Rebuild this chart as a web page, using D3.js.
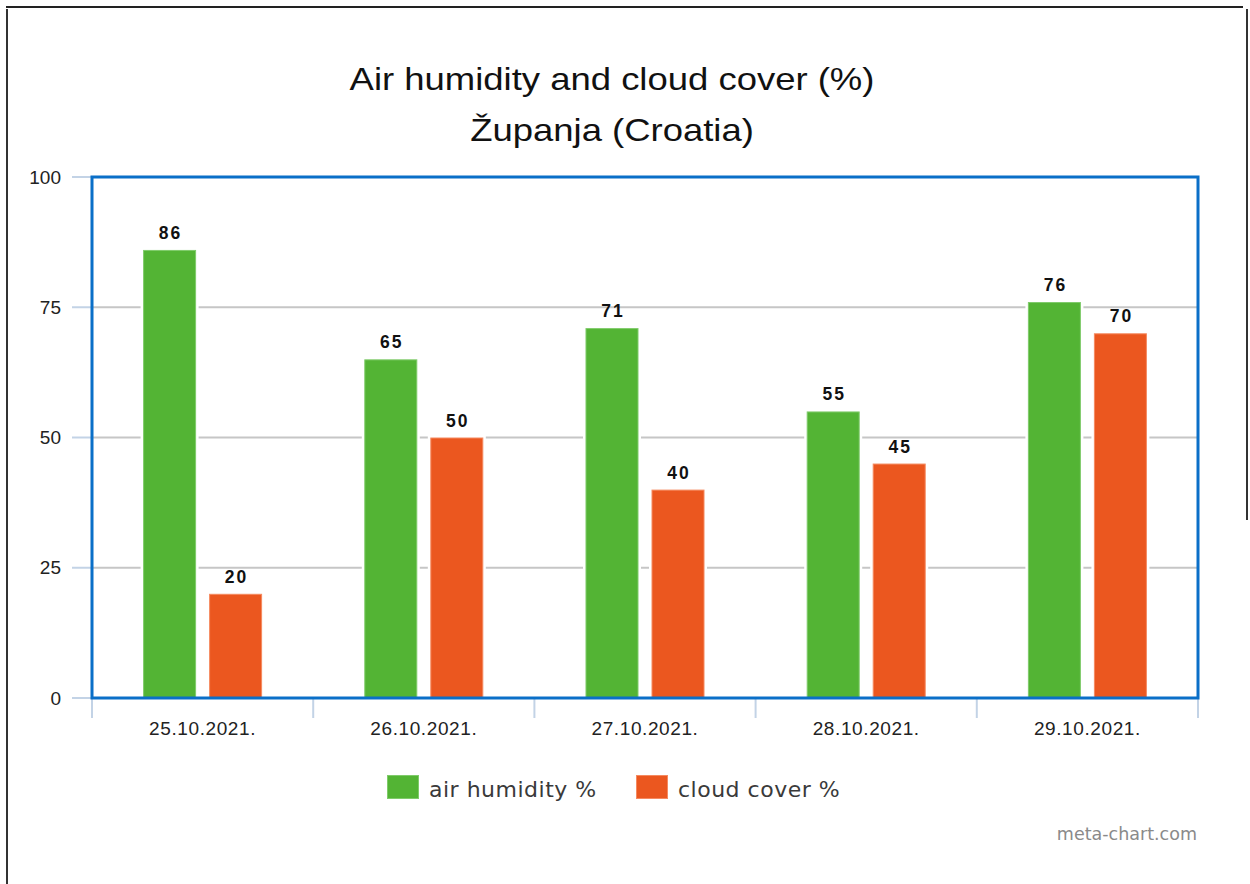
<!DOCTYPE html>
<html>
<head>
<meta charset="utf-8">
<script src="https://cdn.jsdelivr.net/npm/d3@7"></script>
<style>
  html, body { margin: 0; padding: 0; background: #fff; }
  svg { display: block; }
</style>
</head>
<body>
<svg id="chart" width="1250" height="884"></svg>
<script>
const categories = ["25.10.2021.", "26.10.2021.", "27.10.2021.", "28.10.2021.", "29.10.2021."];
const seriesNames = ["air humidity %", "cloud cover %"];
const airHumidity = [86, 65, 71, 55, 76];
const cloudCover = [20, 50, 40, 45, 70];
const seriesColors = ["#53b434", "#eb571f"];
const seriesStroke = ["#7fcb6a", "#f58a60"];
const yTicks = [0, 25, 50, 75, 100];
const titleLines = ["Air humidity and cloud cover (%)", "Županja (Croatia)"];

const svg = d3.select("#chart");
const plot = { left: 92, right: 1198, top: 177, bottom: 698 };

// outer page frame
svg.append("line").attr("x1", 6).attr("x2", 1243).attr("y1", 7).attr("y2", 7)
  .attr("stroke", "#222").attr("stroke-width", 2);
svg.append("line").attr("x1", 7).attr("x2", 7).attr("y1", 9).attr("y2", 884)
  .attr("stroke", "#333").attr("stroke-width", 2);
svg.append("line").attr("x1", 1247).attr("x2", 1247).attr("y1", 9).attr("y2", 520)
  .attr("stroke", "#333").attr("stroke-width", 2);

const x = d3.scaleBand().domain(categories).range([plot.left, plot.right]).padding(0);
const xInner = d3.scaleBand().domain(seriesNames).range([0, x.bandwidth()])
  .paddingInner(0.197).paddingOuter(0.774);
const y = d3.scaleLinear().domain([0, 100]).range([plot.bottom, plot.top]);

// gridlines
svg.append("g").selectAll("line").data(yTicks.filter(d => d > 0 && d < 100)).join("line")
  .attr("x1", plot.left).attr("x2", plot.right)
  .attr("y1", d => y(d)).attr("y2", d => y(d))
  .attr("stroke", "#c6c6c6").attr("stroke-width", 2);

// y ticks and labels
const yAxisG = svg.append("g");
yAxisG.selectAll("line").data(yTicks).join("line")
  .attr("x1", 72).attr("x2", plot.left)
  .attr("y1", d => y(d)).attr("y2", d => y(d))
  .attr("stroke", "#c3d3e6").attr("stroke-width", 2);
yAxisG.selectAll("text").data(yTicks).join("text")
  .attr("x", 61).attr("y", d => y(d))
  .attr("text-anchor", "end").attr("dominant-baseline", "central")
  .attr("font-family", "Liberation Sans, Arial, sans-serif").attr("font-size", 19)
  .attr("fill", "#222").text(d => d);

// x ticks
const xTickPos = categories.map(c => x(c)).concat([plot.right]);
svg.append("g").selectAll("line").data(xTickPos).join("line")
  .attr("x1", d => d).attr("x2", d => d).attr("y1", plot.bottom + 1).attr("y2", 718)
  .attr("stroke", "#c3d3e6").attr("stroke-width", 2);
svg.append("g").selectAll("text").data(categories).join("text")
  .attr("x", d => x(d) + x.bandwidth() / 2).attr("y", 735)
  .attr("text-anchor", "middle")
  .attr("font-family", "Liberation Sans, Arial, sans-serif").attr("font-size", 19)
  .attr("letter-spacing", 0.6)
  .attr("fill", "#222").text(d => d);

// bars
const seriesData = [airHumidity, cloudCover];
const barData = [];
categories.forEach((c, i) => {
  seriesNames.forEach((s, j) => barData.push({ c, s, j, v: seriesData[j][i] }));
});
const barsG = svg.append("g");
barsG.selectAll("rect.bg").data(barData).join("rect").attr("class", "bg")
  .attr("x", d => x(d.c) + xInner(d.s) - 2.5)
  .attr("y", d => y(d.v) - 2)
  .attr("width", xInner.bandwidth() + 5)
  .attr("height", d => y(0) - y(d.v) + 2)
  .attr("fill", "#fff");
barsG.selectAll("rect.bar").data(barData).join("rect").attr("class", "bar")
  .attr("x", d => x(d.c) + xInner(d.s) + 0.5)
  .attr("y", d => y(d.v) + 0.5)
  .attr("width", xInner.bandwidth() - 1)
  .attr("height", d => y(0) - y(d.v) - 0.5)
  .attr("fill", d => seriesColors[d.j])
  .attr("stroke", d => seriesStroke[d.j]).attr("stroke-width", 1);
barsG.selectAll("text").data(barData).join("text")
  .attr("x", d => x(d.c) + xInner(d.s) + xInner.bandwidth() / 2 + 1)
  .attr("y", d => y(d.v) - 11)
  .attr("text-anchor", "middle")
  .attr("font-family", "Liberation Sans, Arial, sans-serif").attr("font-size", 17.5)
  .attr("font-weight", "bold").attr("letter-spacing", 2)
  .attr("fill", "#111").text(d => d.v);

// plot frame
svg.append("rect")
  .attr("x", plot.left).attr("y", plot.top)
  .attr("width", plot.right - plot.left).attr("height", plot.bottom - plot.top)
  .attr("fill", "none").attr("stroke", "#0a6fc8").attr("stroke-width", 3);

// title (horizontally stretched like the reference rendering)
svg.append("g").attr("transform", "translate(612,0) scale(1.14,1)")
  .selectAll("text").data(titleLines).join("text")
  .attr("x", 0).attr("y", (d, i) => 90 + i * 51)
  .attr("text-anchor", "middle")
  .attr("font-family", "Liberation Sans, Arial, sans-serif").attr("font-size", 32)
  .attr("fill", "#111").text(d => d);

// legend
const legendX = [387, 636];
const lg = svg.append("g").selectAll("g").data(seriesNames).join("g")
  .attr("transform", (d, i) => `translate(${legendX[i]},775)`);
lg.append("rect").attr("x", 0.5).attr("y", 0.5).attr("width", 31).attr("height", 23)
  .attr("fill", (d, i) => seriesColors[i]).attr("stroke", (d, i) => seriesStroke[i]);
lg.append("text").attr("x", 42).attr("y", 22)
  .attr("font-family", "DejaVu Sans, Verdana, sans-serif").attr("font-size", 22)
  .attr("letter-spacing", 0.5)
  .attr("fill", "#3a3a3a").text(d => d);

// watermark
svg.append("text").attr("x", 1197).attr("y", 840).attr("text-anchor", "end")
  .attr("font-family", "DejaVu Sans, Verdana, sans-serif").attr("font-size", 17.5)
  .attr("fill", "#8a8a8a").text("meta-chart.com");
</script>
</body>
</html>
